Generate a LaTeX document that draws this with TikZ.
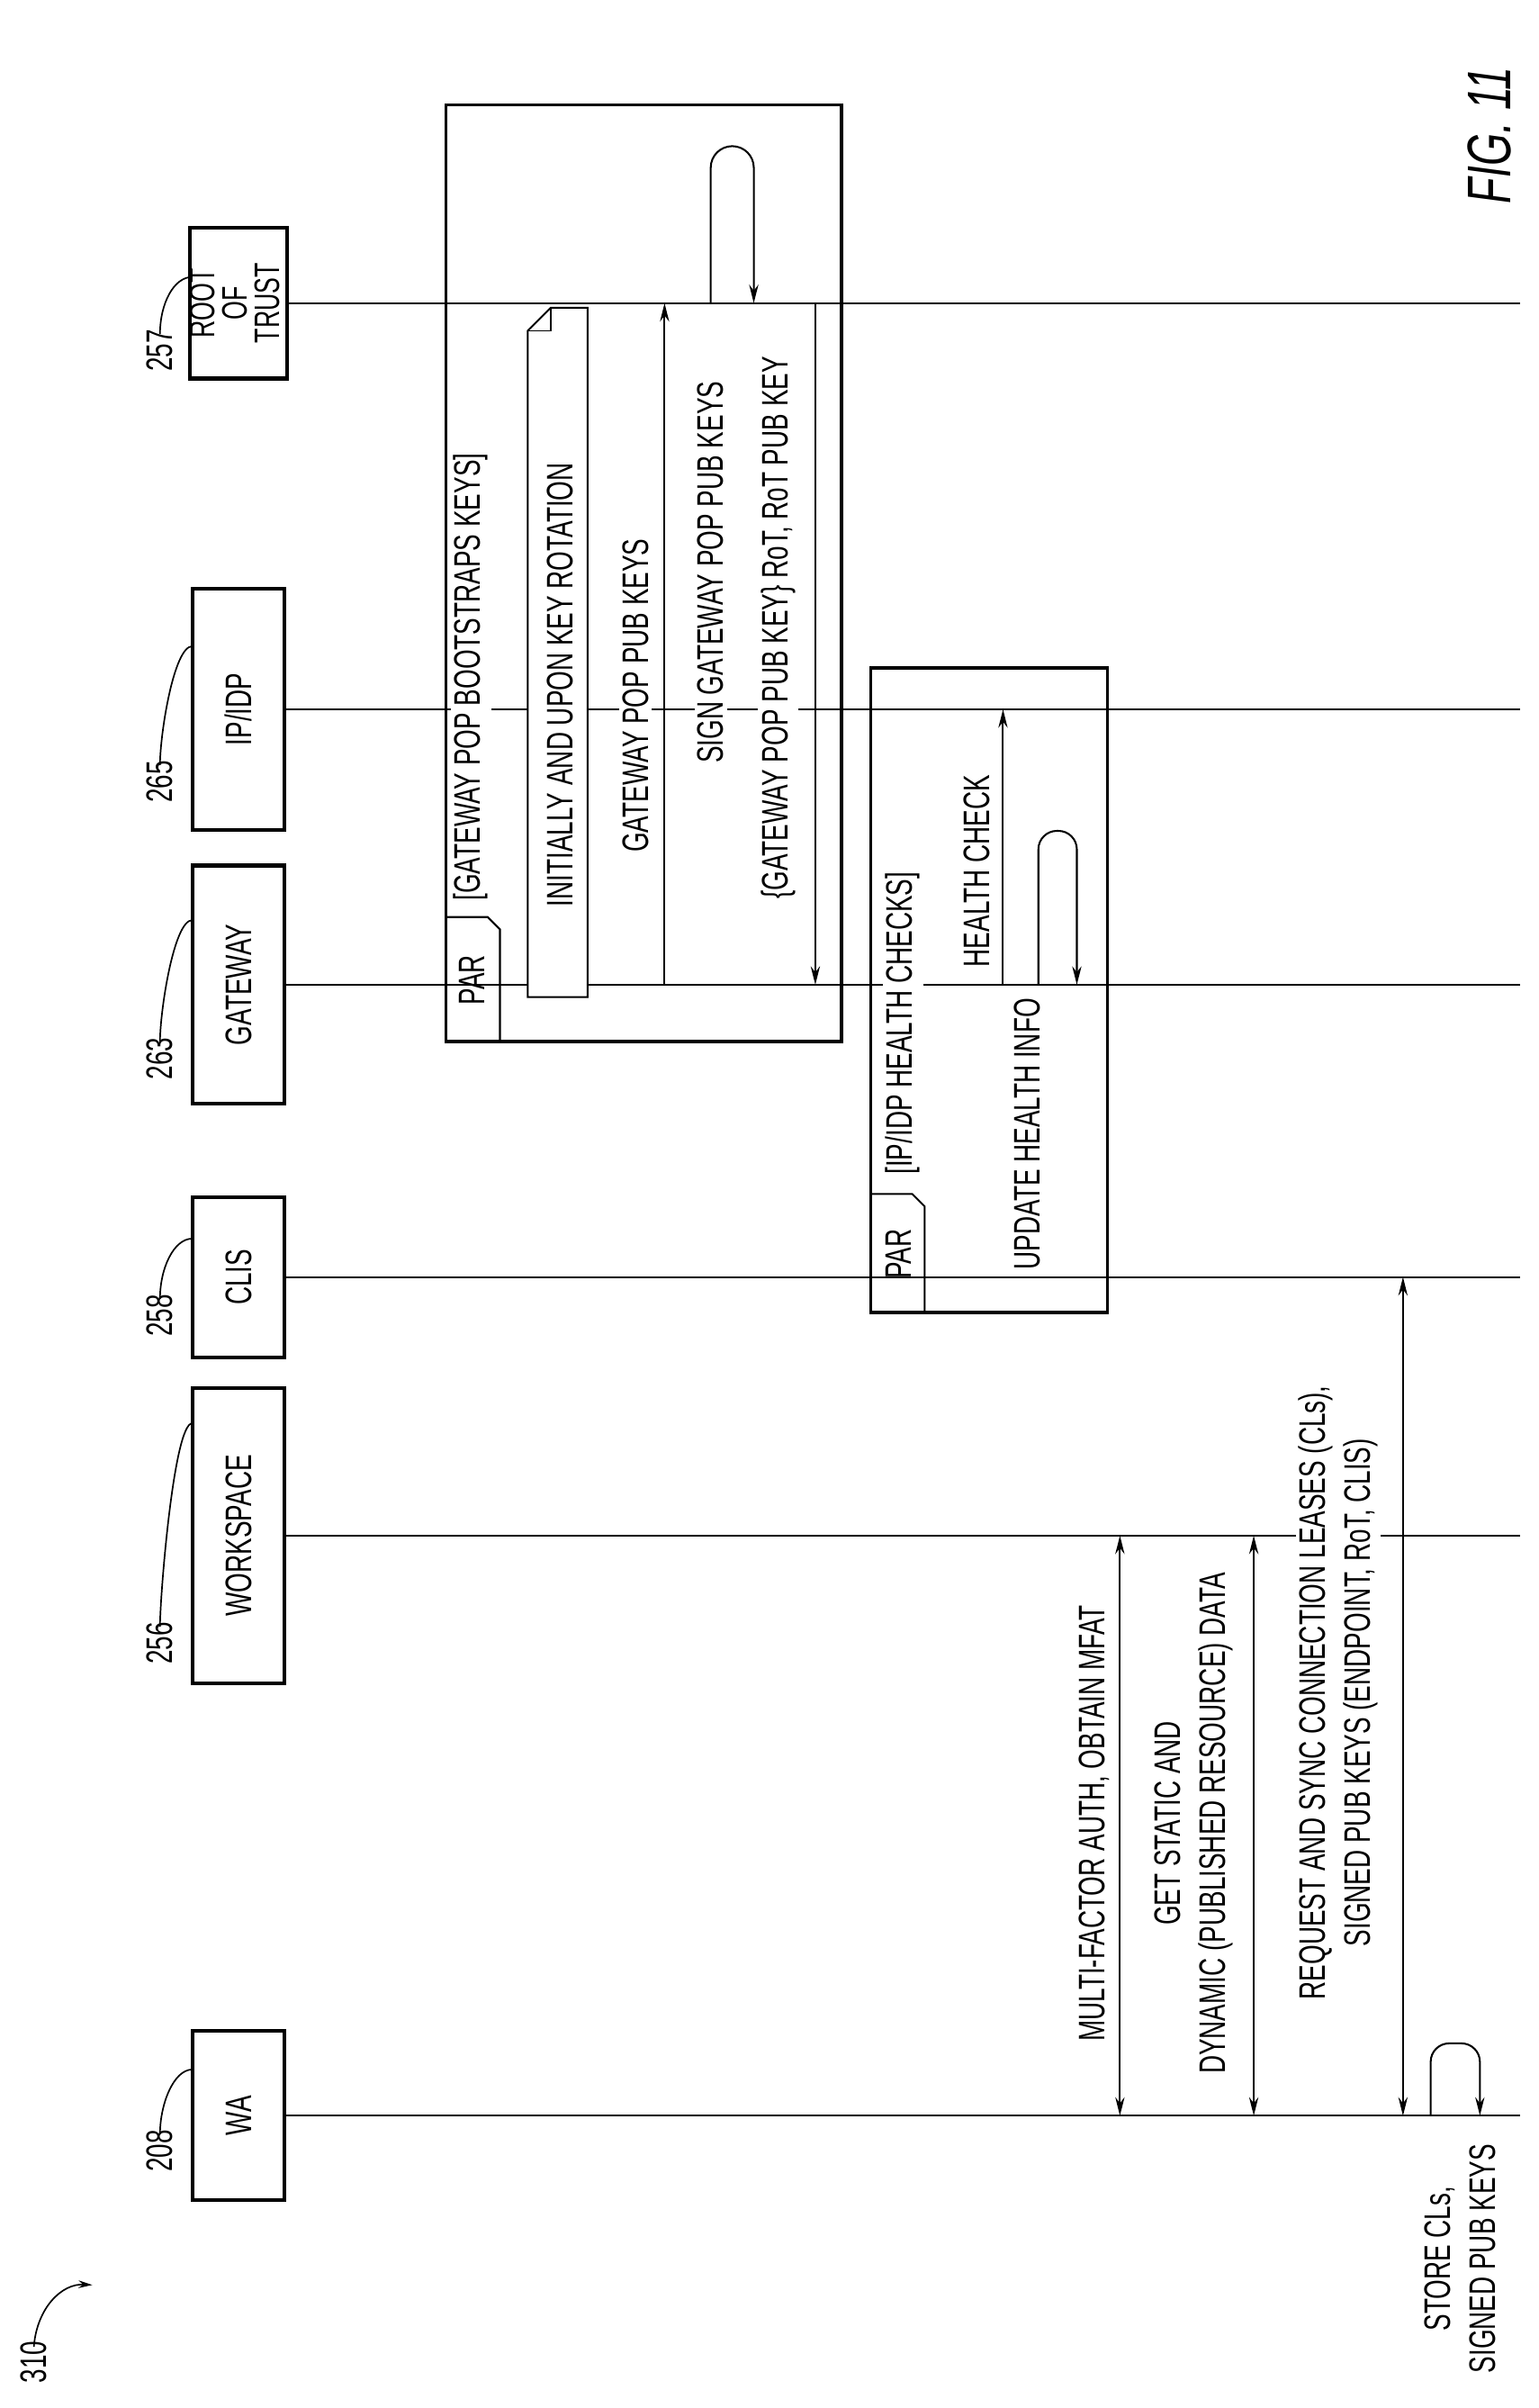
\documentclass[tikz,border=0pt]{standalone}
\usepackage{fontspec}
\setmainfont{Liberation Sans}
\usetikzlibrary{arrows.meta}
\newcommand\cn[1]{\scalebox{0.68}[1]{#1}}
\begin{document}
\begin{tikzpicture}[x=1pt,y=-1pt,
  txt/.style={rotate=90,font=\fontsize{24}{26}\selectfont,inner sep=2pt,fill=white},
  box/.style={draw,line width=2.4pt,font=\fontsize{24}{25}\selectfont,inner sep=0pt,minimum width=60pt},
  life/.style={line width=1.2pt},
  frame/.style={line width=2pt},
  msg/.style={line width=1.2pt,-{Stealth[length=12pt,width=6pt]}},
  dmsg/.style={line width=1.2pt,{Stealth[length=12pt,width=6pt]}-{Stealth[length=12pt,width=6pt]}},
  num/.style={rotate=90,font=\fontsize{24}{26}\selectfont,inner sep=0pt},
  lead/.style={line width=1pt}]
\useasboundingbox (0,0) rectangle (1000,1565);
% participant boxes
\node[box,minimum height=98pt] (rot) at (155,197) {\rotatebox{90}{\fontsize{23}{17}\selectfont\begin{tabular}{@{}c@{}}\cn{ROOT}\\\cn{OF}\\\cn{TRUST}\end{tabular}}};
\node[box,minimum height=157pt] (idp) at (155,461) {\rotatebox{90}{\cn{IP/IDP}}};
\node[box,minimum height=155pt] (gw) at (155,640) {\rotatebox{90}{\cn{GATEWAY}}};
\node[box,minimum height=104pt] (clis) at (155,830) {\rotatebox{90}{\cn{CLIS}}};
\node[box,minimum height=192pt] (ws) at (155,998) {\rotatebox{90}{\cn{WORKSPACE}}};
\node[box,minimum height=110pt] (wa) at (155,1375) {\rotatebox{90}{\cn{WA}}};
% lifelines
\coordinate (rotE) at (988,197);\coordinate (idpE) at (988,461);\coordinate (gwE) at (988,640);
\coordinate (clisE) at (988,830);\coordinate (wsE) at (988,998);\coordinate (waE) at (988,1375);
\draw[life] (rot.east) -- (rotE);
\draw[life] (idp.east) -- (idpE);
\draw[life] (gw.east) -- (gwE);
\draw[life] (clis.east) -- (clisE);
\draw[life] (ws.east) -- (wsE);
\draw[life] (wa.east) -- (waE);
% reference numbers
\foreach \nm/\b/\yc/\yt in {257/rot/228/180, 265/idp/508/420, 263/gw/688/598, 258/clis/855/805, 256/ws/1068/925, 208/wa/1398/1345}{
  \node[num] (n\nm) at (104,\yc) {\cn{\nm}};
  \coordinate (t\nm) at (125,\yt);
  \draw[lead] ([yshift=-3pt]n\nm.east) .. controls +(0,-20) and +(-12,0) .. (t\nm);
}
\node[num] (n310) at (22,1535) {\cn{310}};
\coordinate (a310) at (60,1485);
\draw[lead,-{Stealth[length=9pt,width=5pt]}] ([yshift=-4pt]n310.east) .. controls (24,1500) and (40,1484) .. (a310);
\node[rotate=90,font=\itshape\fontsize{40}{42}\selectfont,inner sep=0pt] (fig) at (968,88) {\cn{FIG. 11}};
% PAR frame 1
\draw[frame] (290,68) rectangle (547,677);
\draw[line width=1.2pt] (290,596) -- (317,596) -- (325,604) -- (325,677);
\node[txt,fill=none] (par1) at (307,637) {\cn{PAR}};
\node[txt] (g1) at (306,440) {\cn{[GATEWAY POP BOOTSTRAPS KEYS]}};
\draw[line width=1.2pt,fill=white] (358,200) -- (382,200) -- (382,648) -- (343,648) -- (343,215) -- cycle;
\draw[line width=1pt] (343,215) -- (358,215) -- (358,200);
\node[txt] (note) at (364,445) {\cn{INITIALLY AND UPON KEY ROTATION}};
\node[txt] at (413,452) {\cn{GATEWAY POP PUB KEYS}};
\node[txt] at (462,372) {\cn{SIGN GATEWAY POP PUB KEYS}};
\node[txt] at (506,408) {\cn{\{GATEWAY POP PUB KEY\} RoT, RoT PUB KEY}};
\coordinate (m1s) at (432,640);\coordinate (m1e) at (432,197);
\draw[msg] (m1s) -- (m1e);
\coordinate (l1a) at (462,197);\coordinate (l1b) at (490,197);
\draw[msg,rounded corners=14pt] (l1a) -- (462,95) -- (490,95) -- (l1b);
\coordinate (m2s) at (530,197);\coordinate (m2e) at (530,640);
\draw[msg] (m2s) -- (m2e);
% PAR frame 2
\draw[frame] (566,434) rectangle (720,853);
\draw[line width=1.2pt] (566,776) -- (593,776) -- (601,784) -- (601,853);
\node[txt,fill=none] at (584,815) {\cn{PAR}};
\node[txt] at (587,665) {\cn{[IP/IDP HEALTH CHECKS]}};
\node[txt] at (635,566) {\cn{HEALTH CHECK}};
\node[txt] at (668,737) {\cn{UPDATE HEALTH INFO}};
\coordinate (m3s) at (652,640);\coordinate (m3e) at (652,461);
\draw[msg] (m3s) -- (m3e);
\coordinate (l2a) at (675,640);\coordinate (l2b) at (700,640);
\draw[msg,rounded corners=12pt] (l2a) -- (675,540) -- (700,540) -- (l2b);
% main messages
\node[txt] at (711,1185) {\cn{MULTI-FACTOR AUTH, OBTAIN MFAT}};
\node[txt,align=center] at (776,1185) {\cn{GET STATIC AND}\\[3pt]\cn{DYNAMIC (PUBLISHED RESOURCE) DATA}};
\node[txt,align=center] at (870,1100) {\cn{REQUEST AND SYNC CONNECTION LEASES (CLs),}\\[3pt]\cn{SIGNED PUB KEYS (ENDPOINT, RoT, CLIS)}};
\node[txt,align=center] at (949,1468) {\cn{STORE CLs,}\\[3pt]\cn{SIGNED PUB KEYS}};
\coordinate (m4a) at (728,998);\coordinate (m4b) at (728,1375);
\draw[dmsg] (m4a) -- (m4b);
\coordinate (m5a) at (815,998);\coordinate (m5b) at (815,1375);
\draw[dmsg] (m5a) -- (m5b);
\coordinate (m6a) at (912,830);\coordinate (m6b) at (912,1375);
\draw[dmsg] (m6a) -- (m6b);
\coordinate (l3a) at (930,1375);\coordinate (l3b) at (962,1375);
\draw[msg,rounded corners=12pt] (l3a) -- (930,1328) -- (962,1328) -- (l3b);
\end{tikzpicture}
\end{document}
